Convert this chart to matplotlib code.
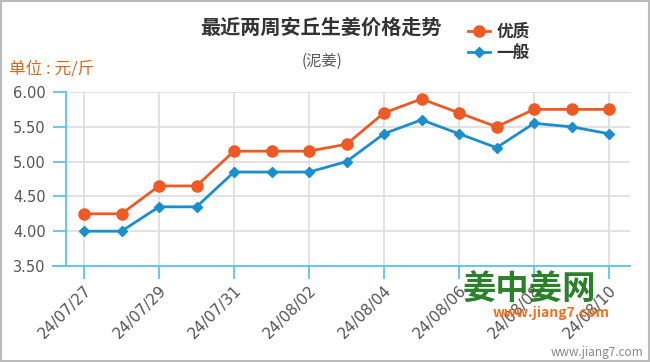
import matplotlib
matplotlib.use("Agg")
import matplotlib.pyplot as plt
from matplotlib.patches import Rectangle

plt.rcParams['font.family'] = ['Noto Sans CJK SC', 'DejaVu Sans']

# data
dates = ["24/07/27", "24/07/28", "24/07/29", "24/07/30", "24/07/31",
         "24/08/01", "24/08/02", "24/08/03", "24/08/04", "24/08/05",
         "24/08/06", "24/08/07", "24/08/08", "24/08/09", "24/08/10"]
premium = [4.25, 4.25, 4.65, 4.65, 5.15, 5.15, 5.15, 5.25, 5.70, 5.90,
           5.70, 5.50, 5.75, 5.75, 5.75]
regular = [4.00, 4.00, 4.35, 4.35, 4.85, 4.85, 4.85, 5.00, 5.40, 5.60,
           5.40, 5.20, 5.55, 5.50, 5.40]
yticks = [3.5, 4.0, 4.5, 5.0, 5.5, 6.0]

orange = "#ee5a24"
blue = "#1a8fcc"
axis_blue = "#5cc4ec"
grid_gray = "#dddddd"
text_gray = "#555555"

fig = plt.figure(figsize=(6.5, 3.62), dpi=100)
ax = fig.add_axes([66 / 650, 1 - 266 / 362, (630 - 66) / 650, (266 - 92) / 362])

x = list(range(len(dates)))
ax.plot(x, premium, color=orange, lw=2, marker="o", ms=8, label="优质", zorder=3)
ax.plot(x, regular, color=blue, lw=2, marker="D", ms=5.5, label="一般", zorder=3)

ax.set_xlim(-0.48, len(dates) - 1 + 0.56)
ax.set_ylim(3.5, 6.0)
ax.set_yticks(yticks)
ax.set_yticklabels(["%.2f" % v for v in yticks], family="DejaVu Sans")
ax.set_xticks(x[::2])
ax.set_xticklabels(dates[::2], rotation=45, ha="right", rotation_mode="anchor",
                   family="DejaVu Sans")

ax.grid(True, color=grid_gray, lw=1.2)
ax.set_axisbelow(True)
for side in ["top", "right"]:
    ax.spines[side].set_visible(False)
for side in ["left", "bottom"]:
    ax.spines[side].set_color(axis_blue)
    ax.spines[side].set_linewidth(1.3)
ax.spines["bottom"].set_bounds(-0.48 - 13 / 37.5, len(dates) - 1 + 0.56)

ax.tick_params(axis="y", length=9.5, width=1.3, color=axis_blue, pad=5,
               labelsize=10.5, labelcolor=text_gray)
ax.tick_params(axis="x", length=9, width=1.3, color=axis_blue, pad=3,
               labelsize=11, labelcolor=text_gray)

fig.text(0.494, 0.925, "最近两周安丘生姜价格走势", ha="center", va="center",
         fontsize=14.5, fontweight="bold", color="#333333")
fig.text(0.496, 0.83, "(泥姜)", ha="center", va="center", fontsize=11,
         color=text_gray)
fig.text(0.014, 0.81, "单位 : 元/斤", ha="left", va="center", fontsize=12,
         color="#d2691e")

leg = ax.legend(loc="upper left", bbox_to_anchor=(453 / 650, 0.978),
                bbox_transform=fig.transFigure, frameon=False,
                handlelength=1.3, handletextpad=0.4, labelspacing=0.2,
                prop={"size": 12, "weight": "bold"})
for t in leg.get_texts():
    t.set_color("#333333")

# watermark
fig.text(0.815, 0.2, "姜中姜网", ha="center", va="center", fontsize=24,
         fontweight="bold", color="#1e7a1e", alpha=0.95)
fig.text(0.848, 0.135, "www.jiang7.com", ha="center", va="center", fontsize=10,
         fontweight="bold", style="italic", color="#f0701e")
fig.text(0.99, 0.027, "www.jiang7.com", ha="right", va="center", fontsize=8.5,
         color="#888888")

fig.patches.append(Rectangle((0.001, 0.002), 0.997, 0.995, transform=fig.transFigure,
                             fill=False, edgecolor="#bbbbbb", lw=1.5))

fig.savefig("out.png", dpi=100)
